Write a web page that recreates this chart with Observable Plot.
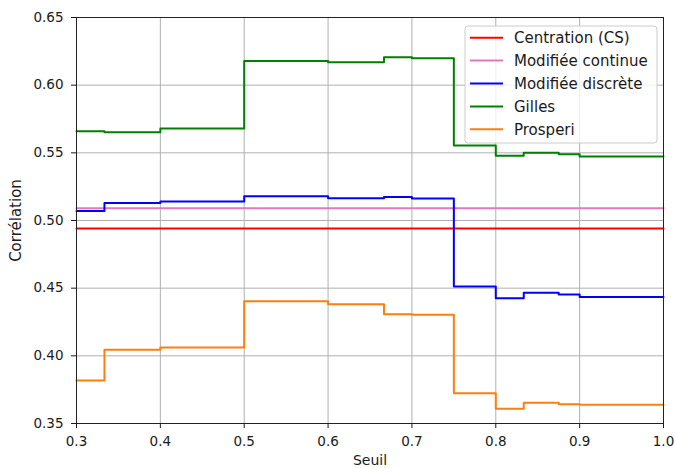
<!DOCTYPE html>
<html>
<head>
<meta charset="utf-8">
<script src="https://cdn.jsdelivr.net/npm/d3@7"></script>
<script src="https://cdn.jsdelivr.net/npm/@observablehq/plot@0.6"></script>
<style>
  body { margin: 0; background: #fff; }
  #chart { width: 675px; height: 468px; }
</style>
</head>
<body>
<div id="chart"></div>
<script>
// Seuils (step-after: each value holds until the next threshold)
const thresholds = [0.3, 1 / 3, 0.4, 0.5, 0.6, 2 / 3, 0.7, 0.75, 0.8, 5 / 6, 0.875, 0.9, 1.0];

// Constant correlations
const centration = 0.494;
const modifieeContinue = 0.509;

// Correlation per threshold
const modifieeDiscrete = [0.507, 0.513, 0.514, 0.518, 0.5165, 0.5173, 0.5163, 0.4513, 0.4426, 0.4466, 0.4453, 0.4434, 0.4434];
const gilles = [0.566, 0.5653, 0.568, 0.6178, 0.617, 0.6207, 0.6198, 0.5555, 0.5479, 0.550, 0.549, 0.5473, 0.5473];
const prosperi = [0.3818, 0.4045, 0.4062, 0.4404, 0.4382, 0.4308, 0.4303, 0.3724, 0.3609, 0.3653, 0.3643, 0.3638, 0.3638];

const seriesNames = ["Centration (CS)", "Modifiée continue", "Modifiée discrète", "Gilles", "Prosperi"];
const seriesColors = ["#ff0000", "#e377c2", "#0000ff", "#008000", "#ff7f0e"];

const xTicks = [0.3, 0.4, 0.5, 0.6, 0.7, 0.8, 0.9, 1.0];
const yTicks = [0.35, 0.40, 0.45, 0.50, 0.55, 0.60, 0.65];

const seriesValues = [
  thresholds.map(() => centration),
  thresholds.map(() => modifieeContinue),
  modifieeDiscrete,
  gilles,
  prosperi
];

const rows = [];
seriesNames.forEach((name, i) => {
  thresholds.forEach((t, j) => rows.push({ serie: name, seuil: t, corr: seriesValues[i][j] }));
});

const font = "DejaVu Sans, sans-serif";

const plot = Plot.plot({
  width: 675,
  height: 468,
  marginLeft: 76,
  marginRight: 12,
  marginTop: 17,
  marginBottom: 45,
  style: { fontFamily: font, fontSize: "13.5px", background: "#fff", color: "#1a1a1a" },
  x: { domain: [0.3, 1.0] },
  y: { domain: [0.35, 0.65] },
  color: { domain: seriesNames, range: seriesColors },
  marks: [
    Plot.gridX(xTicks, { stroke: "#b0b0b0", strokeOpacity: 1, strokeWidth: 1 }),
    Plot.gridY(yTicks, { stroke: "#b0b0b0", strokeOpacity: 1, strokeWidth: 1 }),
    Plot.lineY(rows, {
      x: "seuil",
      y: "corr",
      z: "serie",
      stroke: "serie",
      curve: "step-after",
      strokeWidth: 2
    }),
    Plot.frame({ stroke: "#222", strokeWidth: 1 }),
    Plot.axisX(xTicks, {
      tickFormat: d3.format(".1f"),
      tickSize: 5,
      tickPadding: 8,
      label: null
    }),
    Plot.axisX({
      ticks: [],
      label: "Seuil",
      labelAnchor: "center",
      labelArrow: "none",
      labelOffset: 41,
      fontSize: "14px"
    }),
    Plot.axisY(yTicks, {
      tickFormat: d3.format(".2f"),
      tickSize: 5,
      tickPadding: 8,
      label: null
    }),
    Plot.axisY({
      ticks: [],
      label: "Corrélation",
      labelAnchor: "center",
      labelArrow: "none",
      labelOffset: 66,
      fontSize: "15px"
    })
  ]
});

document.getElementById("chart").appendChild(plot);

// Legend box in the upper-right corner of the plot area
const xr = plot.scale("x").range;
const yr = plot.scale("y").range;
const boxW = 192, boxH = 117;
const boxX = Math.max(...xr) - 6 - boxW;
const boxY = Math.min(...yr) + 9;
const svg = d3.select(plot);
const legend = svg.append("g")
  .attr("transform", `translate(${boxX},${boxY})`)
  .attr("text-anchor", "start");
legend.append("rect")
  .attr("x", 0).attr("y", 0)
  .attr("width", boxW).attr("height", boxH)
  .attr("rx", 3).attr("ry", 3)
  .style("fill", "#ffffff").style("fill-opacity", 0.8)
  .style("stroke", "#cccccc").style("stroke-width", 1);
seriesNames.forEach((name, i) => {
  const cy = 11.7 + i * 22.9;
  legend.append("line")
    .attr("x1", 5).attr("x2", 38).attr("y1", cy).attr("y2", cy)
    .style("stroke", seriesColors[i]).style("stroke-width", 2);
  legend.append("text")
    .attr("x", 49).attr("y", cy).attr("dy", "0.35em")
    .attr("text-anchor", "start")
    .style("font-family", font).style("font-size", "15px")
    .style("fill", "#1a1a1a")
    .text(name);
});
</script>
</body>
</html>
